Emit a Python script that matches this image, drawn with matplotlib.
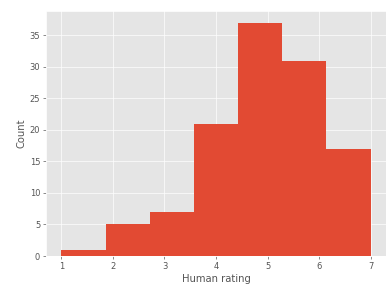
import numpy as np
import matplotlib
matplotlib.use("Agg")
import matplotlib.pyplot as plt

# histogram of human ratings, 7 bins between 1 and 7
bin_edges = np.linspace(1, 7, 8)
counts = [1, 5, 7, 21, 37, 31, 17]

plt.style.use('ggplot')
fig = plt.figure(figsize=(386 / 60, 284 / 60), dpi=60)
ax = fig.add_axes([46 / 386, 28 / 284, 340 / 386, 245 / 284])

centers = (bin_edges[:-1] + bin_edges[1:]) / 2
ax.hist(centers, bins=bin_edges, weights=counts)
ax.set_xlabel('Human rating')
ax.set_ylabel('Count')

fig.savefig('out.png', dpi=60)
